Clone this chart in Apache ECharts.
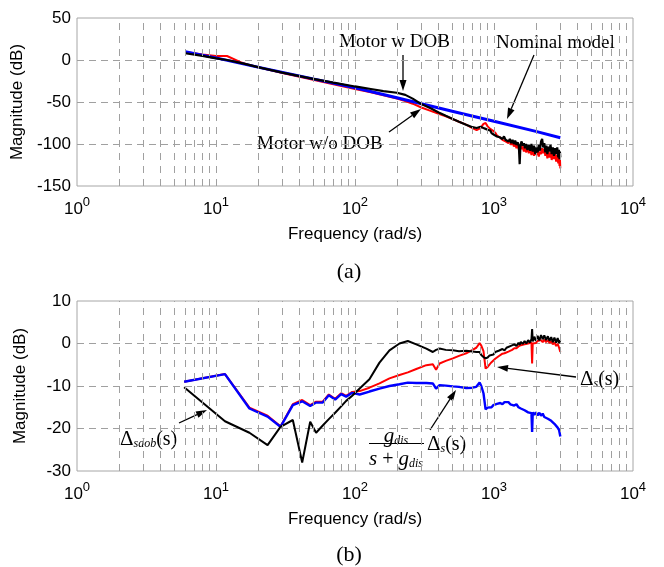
<!DOCTYPE html>
<html>
<head>
<meta charset="utf-8">
<script src="https://cdn.jsdelivr.net/npm/echarts@6/dist/echarts.min.js"></script>
<style>
  html, body { margin: 0; padding: 0; background: #fff; }
  #chart { width: 664px; height: 567px; }
</style>
</head>
<body>
<div id="chart"></div>
<script>
// ---- data ----
// vertical grid lines of the log axes
var gridFreqs = [2, 3, 4, 5, 6, 7, 8, 9, 10, 20, 30, 40, 50, 60, 70, 80, 90,
  100, 200, 300, 400, 500, 600, 700, 800, 900, 1000, 2000, 3000, 4000, 5000, 6000, 7000, 8000, 9000];

// (a) nominal model
var nominalFreq = [6, 10, 20, 50, 100, 200, 500, 1000, 2000, 3000];
var nominalDb = [10, 2.5, -8.5, -22.5, -33, -45, -61, -73, -85, -92.5];

// (a) low frequency part of the measured curves
var lowFreqA = [6, 8, 10, 12, 15, 17, 20, 30, 50, 70, 100, 130, 160, 200, 230, 260, 300,
  350, 400, 450, 500, 560, 630, 700, 750, 800, 840, 870];
var withDobLowDb = [8, 5, 2, 0, -3.5, -5.5, -8.5, -15, -22.5, -27, -31.5, -34.5, -37, -39, -41.5, -46, -52.5,
  -57.5, -62.5, -66.5, -70, -73.5, -77, -80, -81, -79.5, -81, -82];
var withoutDobLowDb = [9.5, 6.5, 4.8, 4.8, -2.5, -5.5, -8.5, -15.5, -23.5, -29, -34.5, -38.5, -42, -46, -49, -52, -56.5,
  -60.5, -64, -67, -70, -73.5, -77, -81, -83.5, -81, -76, -75];

// (a) high frequency (noisy) part
var hfFreqA = [900, 920, 940, 960, 980, 1000, 1025, 1050, 1075, 1100,
  1125, 1150, 1180, 1210, 1240, 1270, 1300, 1330, 1360, 1390,
  1420, 1450, 1480, 1510, 1530, 1550, 1580, 1610, 1640, 1670,
  1700, 1740, 1780, 1820, 1860, 1900, 1940, 1980, 2020, 2060,
  2100, 2140, 2180, 2220, 2260, 2300, 2340, 2380, 2420, 2460,
  2500, 2550, 2600, 2650, 2700, 2750, 2800, 2850, 2900, 2930,
  2960, 2980, 3000];
var withDobHfDb = [-83, -85, -84, -87, -86, -89, -87, -91, -89, -92,
  -90, -94, -91, -95, -93, -97, -94, -99, -95, -100,
  -96, -101, -98, -103, -124, -101, -97, -102, -99, -105,
  -100, -107, -101, -108, -100, -109, -102, -112, -104, -110,
  -101, -108, -97, -94, -104, -99, -110, -102, -112, -103,
  -109, -101, -112, -104, -114, -105, -112, -104, -116, -107,
  -118, -109, -116];
var withoutDobHfDb = [-79, -80, -82, -83, -84, -86, -87, -90, -89, -92,
  -91, -95, -93, -97, -95, -99, -96, -101, -98, -103,
  -99, -105, -101, -107, -111, -102, -106, -103, -109, -104,
  -110, -105, -111, -106, -113, -107, -114, -108, -113, -108,
  -115, -109, -112, -105, -111, -106, -114, -108, -117, -109,
  -116, -110, -119, -111, -118, -112, -121, -113, -123, -115,
  -126, -117, -129];

// (b) low frequency part
var lowFreqB = [5.9, 11.6, 17.4, 23.5, 29.1, 35.7, 41.7, 47.6, 52.5, 58.6, 64.8, 72, 79.5, 86.4, 95.5,
  108, 127, 150, 177, 209, 240, 276, 326, 363, 383, 406, 450, 506, 560, 631, 700, 746, 788, 810, 840, 870];
var deltaSdobLow = [-10.3, -18.3, -21.0, -23.9, -19.6, -18.0, -28.0, -18.4, -21.0, -19.3, -17.8, -16.3, -14.8, -13.5, -12.3,
  -10.6, -8.4, -4.5, -1.6, 0.0, 0.6, -0.2, -1.2, -2.0, -1.5, -1.2, -1.5, -1.6, -1.8, -1.7, -1.9, -2.0, -2.0, -2.7, -3.2, -3.5];
var deltaSLow = [-9.0, -7.2, -15.1, -17.0, -19.5, -14.3, -13.3, -14.5, -13.7, -13.7, -12.0, -13.0, -11.7, -12.3, -11.4,
  -11.2, -10.4, -9.4, -8.2, -7.4, -6.8, -6.0, -5.1, -4.9, -6.2, -4.7, -4.1, -3.5, -2.9, -2.3, -1.5, -1.0, 0.1, -0.5, -1.8, -5.9];
var filteredLow = [-9.0, -7.2, -15.3, -17.2, -19.6, -14.5, -13.6, -14.7, -13.9, -13.9, -12.2, -13.2, -11.9, -12.5, -11.6,
  -12.0, -11.3, -10.6, -10.0, -9.6, -9.2, -9.3, -9.3, -9.4, -10.6, -9.8, -9.9, -10.1, -10.2, -10.5, -10.4, -10.2, -9.2, -10.0, -11.7, -15.5];

// (b) high frequency part
var hfFreqB = [900, 930, 960, 990, 1020, 1050, 1080, 1110, 1150, 1190,
  1230, 1270, 1310, 1350, 1400, 1450, 1500, 1530, 1560, 1610,
  1660, 1710, 1760, 1810, 1860, 1880, 1900, 1950, 2000, 2060,
  2120, 2180, 2240, 2300, 2370, 2440, 2510, 2580, 2650, 2720,
  2800, 2870, 2940, 3000];
var deltaSdobHf = [-3.3, -2.8, -2.4, -2.6, -2.0, -2.3, -1.7, -1.9, -1.3, -1.6,
  -1.0, -1.3, -0.6, -0.9, -0.2, -0.6, 0.2, -0.3, 0.4, -0.1,
  0.6, 0.0, 0.8, 0.2, 1.0, 3.4, 0.5, 1.6, 0.6, 1.8,
  0.7, 2.0, 1.0, 1.9, 0.8, 1.7, 0.6, 1.5, 0.3, 1.4,
  0.2, 1.3, 0.1, 0.8];
var deltaSHf = [-5.5, -4.9, -4.4, -4.2, -3.6, -3.5, -3.0, -2.9, -2.4, -2.3,
  -1.9, -1.9, -1.5, -1.5, -1.1, -1.1, -0.7, -0.9, -0.4, -0.6,
  -0.2, -0.4, 0.0, -0.2, 0.2, -4.7, 0.0, 0.4, 0.1, 0.6,
  0.2, 0.8, 0.3, 0.9, 0.3, 0.8, 0.1, 0.6, -0.2, 0.3,
  -0.6, -0.1, -1.0, -2.0];
var filteredHf = [-15.1, -14.8, -15.0, -14.5, -14.7, -14.2, -14.5, -14.0, -14.3, -13.8,
  -14.2, -13.8, -14.3, -14.0, -14.6, -14.3, -15.0, -14.6, -15.3, -15.0,
  -15.7, -15.4, -16.2, -15.8, -16.4, -20.8, -16.2, -16.8, -16.2, -16.9,
  -16.3, -17.0, -16.5, -17.3, -16.9, -17.7, -17.4, -18.2, -18.0, -18.9,
  -19.0, -19.8, -20.4, -21.9];

// ---- chart ----
var sans = 'Liberation Sans';
var serif = 'Liberation Serif';

function pairs(freqs, vals) {
  return freqs.map(function (f, i) { return [f, vals[i]]; });
}

function arrow(x1, y1, x2, y2) {
  var a = Math.atan2(y2 - y1, x2 - x1);
  var len = 11, half = 3.5;
  var bx = x2 - len * Math.cos(a), by = y2 - len * Math.sin(a);
  var px = -Math.sin(a) * half, py = Math.cos(a) * half;
  return [
    { type: 'line', silent: true, shape: { x1: x1, y1: y1, x2: bx, y2: by }, style: { stroke: '#000', lineWidth: 1.3 } },
    { type: 'polygon', silent: true, shape: { points: [[x2, y2], [bx + px, by + py], [bx - px, by - py]] }, style: { fill: '#000' } }
  ];
}

function label(x, y, text, rich, align) {
  return {
    type: 'text', silent: true, x: x, y: y,
    style: { text: text, rich: rich, fill: '#000', align: align || 'left', verticalAlign: 'middle',
      font: '19px ' + serif }
  };
}

var mathRich = {
  d: { fontFamily: serif, fontSize: 21, lineHeight: 24, verticalAlign: 'bottom' },
  p: { fontFamily: serif, fontSize: 20, lineHeight: 24, verticalAlign: 'bottom' },
  i: { fontFamily: serif, fontSize: 21, fontStyle: 'italic', lineHeight: 24, verticalAlign: 'bottom' },
  sub: { fontFamily: serif, fontSize: 12, fontStyle: 'italic', lineHeight: 8, verticalAlign: 'bottom' }
};

function vGridLines() {
  return {
    silent: true, symbol: 'none', animation: false,
    label: { show: false },
    lineStyle: { color: '#a0a0a0', width: 1, type: [7, 6] },
    data: gridFreqs.map(function (f) { return { xAxis: f }; })
  };
}

function xAxisFor(idx) {
  return {
    type: 'log', logBase: 10, gridIndex: idx, min: 1, max: 10000, splitNumber: 4,
    axisLine: { show: false }, axisTick: { show: false }, splitLine: { show: false },
    axisLabel: {
      margin: 10,
      formatter: function (v) { return '{b|10}{s|' + Math.round(Math.log10(v)) + '}'; },
      rich: {
        b: { fontFamily: sans, fontSize: 17, color: '#000', lineHeight: 22, verticalAlign: 'bottom' },
        s: { fontFamily: sans, fontSize: 13, color: '#000', lineHeight: 14, verticalAlign: 'top' }
      }
    },
    name: 'Frequency (rad/s)', nameLocation: 'middle', nameGap: 40,
    nameTextStyle: { fontFamily: sans, fontSize: 17, color: '#000' }
  };
}

function yAxisFor(idx, min, max, interval) {
  return {
    type: 'value', gridIndex: idx, min: min, max: max, interval: interval,
    axisLine: { show: false }, axisTick: { show: false },
    splitLine: { show: true, showMinLine: false, showMaxLine: false, lineStyle: { color: '#a0a0a0', width: 1, type: [7, 5] } },
    axisLabel: { margin: 6, fontFamily: sans, fontSize: 17, color: '#000' },
    name: 'Magnitude (dB)', nameLocation: 'middle', nameGap: 48, nameRotate: 90,
    nameTextStyle: { fontFamily: sans, fontSize: 17, color: '#000' }
  };
}

function curve(xi, name, data, color, width) {
  return {
    type: 'line', name: name, xAxisIndex: xi, yAxisIndex: xi, data: data,
    showSymbol: false, symbol: 'none', animation: false, clip: true,
    lineStyle: { color: color, width: width }
  };
}

var graphics = []
  .concat(arrow(403, 55, 403, 91))
  .concat(arrow(534, 55, 507, 119))
  .concat(arrow(389, 132, 421, 109))
  .concat(arrow(179, 423, 207, 410))
  .concat(arrow(430, 430, 456, 390))
  .concat(arrow(576, 377, 497, 367))
  .concat([
    label(339, 42, 'Motor w DOB'),
    label(496, 43, 'Nominal model'),
    label(257, 144, 'Motor w/o DOB'),
    label(120, 438, '{d|Δ}{sub|sdob}{p|(s)}', mathRich),
    label(580, 378, '{d|Δ}{sub|s}{p|(s)}', mathRich),
    label(396, 435, '{i|g}{sub|dis}', mathRich, 'center'),
    { type: 'line', silent: true, shape: { x1: 369, y1: 443.5, x2: 424, y2: 443.5 }, style: { stroke: '#000', lineWidth: 1 } },
    label(396, 458, '{i|s}{p| + }{i|g}{sub|dis}', mathRich, 'center'),
    label(427, 443, '{d|Δ}{sub|s}{p|(s)}', mathRich),
    { type: 'text', silent: true, x: 349, y: 272, style: { text: '(a)', font: '22px ' + serif, fill: '#000', align: 'center', verticalAlign: 'middle' } },
    { type: 'text', silent: true, x: 349, y: 555, style: { text: '(b)', font: '22px ' + serif, fill: '#000', align: 'center', verticalAlign: 'middle' } }
  ]);

var option = {
  animation: false,
  backgroundColor: '#fff',
  grid: [
    { left: 77, top: 18, width: 556, height: 168, show: true, borderColor: '#a6a6a6', borderWidth: 1, containLabel: false },
    { left: 77, top: 301, width: 556, height: 170, show: true, borderColor: '#a6a6a6', borderWidth: 1, containLabel: false }
  ],
  xAxis: [xAxisFor(0), xAxisFor(1)],
  yAxis: [yAxisFor(0, -150, 50, 50), yAxisFor(1, -30, 10, 10)],
  series: [
    { type: 'line', xAxisIndex: 0, yAxisIndex: 0, data: [], markLine: vGridLines() },
    { type: 'line', xAxisIndex: 1, yAxisIndex: 1, data: [], markLine: vGridLines() },
    curve(0, 'Motor w/o DOB', pairs(lowFreqA.concat(hfFreqA), withoutDobLowDb.concat(withoutDobHfDb)), '#ff0000', 2),
    curve(0, 'Nominal model', pairs(nominalFreq, nominalDb), '#0000ff', 3),
    curve(0, 'Motor w DOB', pairs(lowFreqA.concat(hfFreqA), withDobLowDb.concat(withDobHfDb)), '#000000', 2.2),
    curve(1, 'delta_s', pairs(lowFreqB.concat(hfFreqB), deltaSLow.concat(deltaSHf)), '#ff0000', 2),
    curve(1, 'filtered delta_s', pairs(lowFreqB.concat(hfFreqB), filteredLow.concat(filteredHf)), '#0000ff', 2.4),
    curve(1, 'delta_sdob', pairs(lowFreqB.concat(hfFreqB), deltaSdobLow.concat(deltaSdobHf)), '#000000', 2)
  ],
  graphic: graphics
};

var chart = echarts.init(document.getElementById('chart'), null, { renderer: 'canvas' });
chart.setOption(option);
</script>
</body>
</html>
